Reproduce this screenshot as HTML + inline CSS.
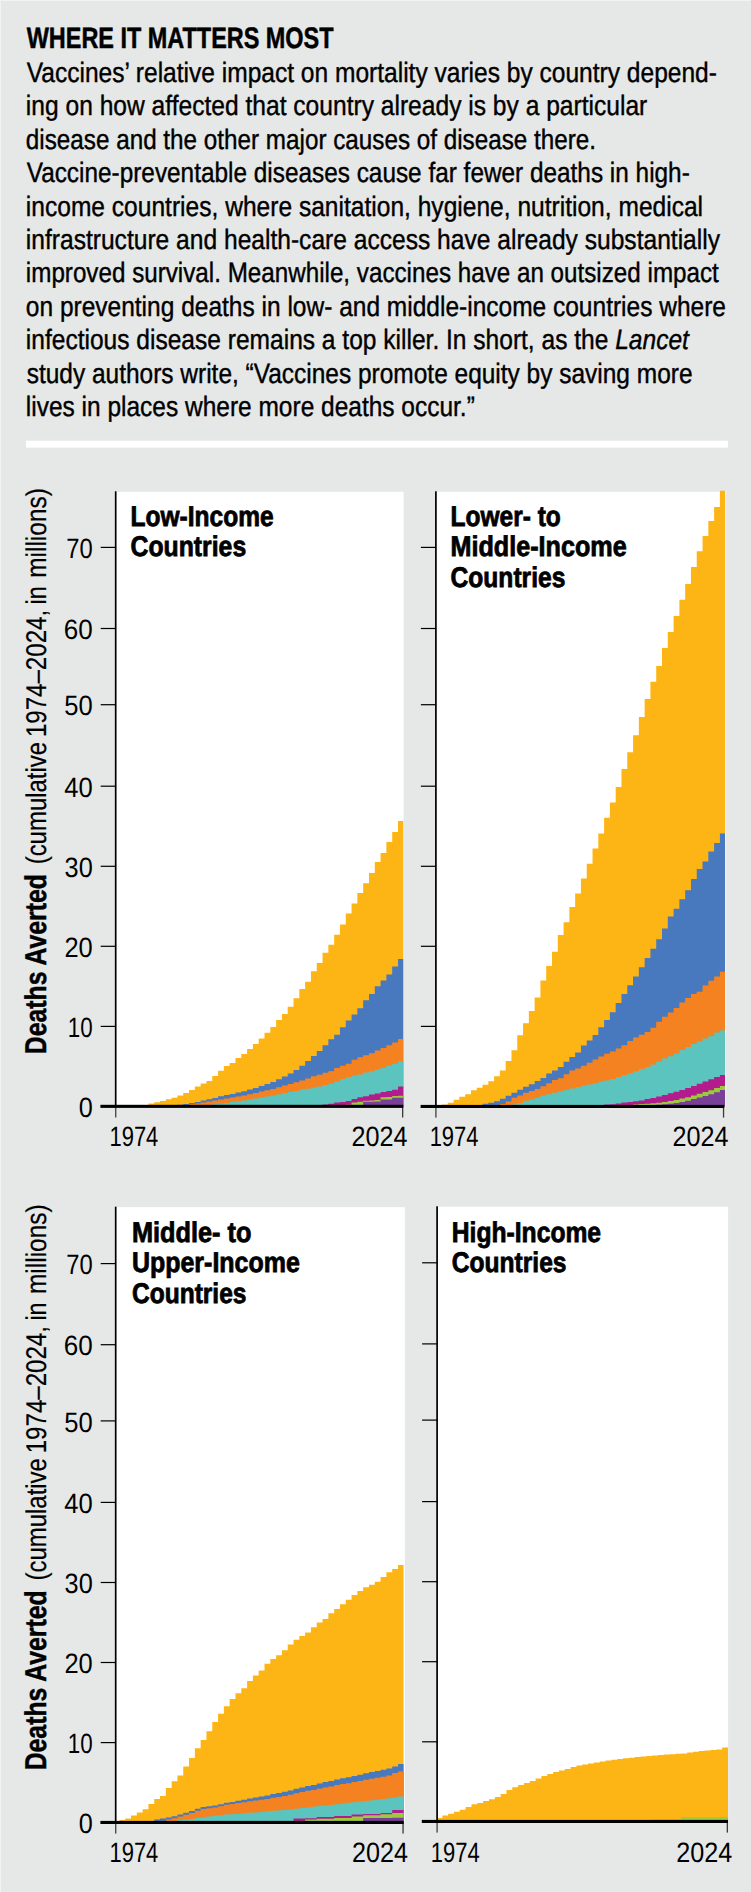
<!DOCTYPE html>
<html lang="en"><head><meta charset="utf-8"><title>Where It Matters Most</title>
<style>html,body{margin:0;padding:0;background:#e6e8e7;}svg{display:block}</style></head>
<body>
<svg width="751" height="1892" viewBox="0 0 751 1892" font-family="'Liberation Sans', sans-serif" fill="#000" text-rendering="geometricPrecision">
<rect width="751" height="1892" fill="#e6e8e7"/>
<rect x="0" y="0" width="751" height="1" fill="#f1f2f2"/><rect x="0" y="0" width="1" height="1892" fill="#f1f2f2"/>
<g id="header">
<text transform="translate(26.70,47.80) scale(0.7920,1)" font-size="29.6" stroke="#000" stroke-width="0.5"><tspan font-weight="bold" font-style="normal">WHERE IT MATTERS MOST</tspan></text>
<text transform="translate(26.70,81.90) scale(0.8765,1)" font-size="28.0" stroke="#000" stroke-width="0.4">Vaccines’ relative impact on mortality varies by country depend-</text>
<text transform="translate(25.82,115.30) scale(0.8782,1)" font-size="28.0" stroke="#000" stroke-width="0.4">ing on how affected that country already is by a particular</text>
<text transform="translate(25.83,148.70) scale(0.8661,1)" font-size="28.0" stroke="#000" stroke-width="0.4">disease and the other major causes of disease there.</text>
<text transform="translate(26.70,182.10) scale(0.8700,1)" font-size="28.0" stroke="#000" stroke-width="0.4">Vaccine-preventable diseases cause far fewer deaths in high-</text>
<text transform="translate(25.82,215.50) scale(0.8773,1)" font-size="28.0" stroke="#000" stroke-width="0.4">income countries, where sanitation, hygiene, nutrition, medical</text>
<text transform="translate(25.82,248.90) scale(0.8780,1)" font-size="28.0" stroke="#000" stroke-width="0.4">infrastructure and health-care access have already substantially</text>
<text transform="translate(25.84,282.30) scale(0.8646,1)" font-size="28.0" stroke="#000" stroke-width="0.4">improved survival. Meanwhile, vaccines have an outsized impact</text>
<text transform="translate(25.82,315.70) scale(0.8752,1)" font-size="28.0" stroke="#000" stroke-width="0.4">on preventing deaths in low- and middle-income countries where</text>
<text transform="translate(25.82,349.10) scale(0.8766,1)" font-size="28.0" stroke="#000" stroke-width="0.4">infectious disease remains a top killer. In short, as the <tspan font-weight="normal" font-style="italic">Lancet</tspan></text>
<text transform="translate(26.70,382.50) scale(0.8737,1)" font-size="28.0" stroke="#000" stroke-width="0.4">study authors write, “Vaccines promote equity by saving more</text>
<text transform="translate(25.83,415.90) scale(0.8742,1)" font-size="28.0" stroke="#000" stroke-width="0.4">lives in places where more deaths occur.”</text>
</g>
<rect x="26" y="440.7" width="701.9" height="6.9" fill="#fff"/>
<g id="panel-1">
<rect x="115.70" y="491.80" width="287.90" height="614.50" fill="#fff"/>
<clipPath id="c1"><rect x="116.50" y="489.80" width="286.80" height="618.50"/></clipPath>
<g clip-path="url(#c1)" shape-rendering="geometricPrecision">
<path d="M113.60,1106.30L113.60,1106.30L119.40,1106.30L119.40,1106.30L125.21,1106.30L125.21,1106.30L131.01,1106.30L131.01,1106.30L136.82,1106.30L136.82,1106.30L142.62,1106.30L142.62,1104.90L148.42,1104.90L148.42,1103.40L154.23,1103.40L154.23,1102.20L160.03,1102.20L160.03,1101.00L165.84,1101.00L165.84,1099.20L171.64,1099.20L171.64,1097.70L177.44,1097.70L177.44,1095.50L183.25,1095.50L183.25,1092.90L189.05,1092.90L189.05,1090.00L194.86,1090.00L194.86,1086.60L200.66,1086.60L200.66,1083.50L206.46,1083.50L206.46,1080.90L212.27,1080.90L212.27,1076.00L218.07,1076.00L218.07,1070.80L223.88,1070.80L223.88,1065.90L229.68,1065.90L229.68,1062.90L235.48,1062.90L235.48,1058.00L241.29,1058.00L241.29,1054.10L247.09,1054.10L247.09,1049.00L252.90,1049.00L252.90,1044.00L258.70,1044.00L258.70,1038.40L264.50,1038.40L264.50,1032.70L270.31,1032.70L270.31,1027.00L276.11,1027.00L276.11,1020.00L281.92,1020.00L281.92,1013.90L287.72,1013.90L287.72,1006.70L293.52,1006.70L293.52,998.30L299.33,998.30L299.33,989.00L305.13,989.00L305.13,981.80L310.94,981.80L310.94,971.30L316.74,971.30L316.74,963.00L322.54,963.00L322.54,952.80L328.35,952.80L328.35,944.80L334.15,944.80L334.15,934.80L339.96,934.80L339.96,924.40L345.76,924.40L345.76,913.50L351.56,913.50L351.56,903.50L357.37,903.50L357.37,892.90L363.17,892.90L363.17,883.30L368.98,883.30L368.98,872.90L374.78,872.90L374.78,861.90L380.58,861.90L380.58,852.90L386.39,852.90L386.39,842.00L392.19,842.00L392.19,832.00L398.00,832.00L398.00,821.00L403.80,821.00L403.80,1106.30Z" fill="#fdb515"/>
<path d="M113.60,1106.30L113.60,1106.30L119.40,1106.30L119.40,1106.30L125.21,1106.30L125.21,1106.30L131.01,1106.30L131.01,1106.30L136.82,1106.30L136.82,1106.30L142.62,1106.30L142.62,1106.30L148.42,1106.30L148.42,1106.30L154.23,1106.30L154.23,1106.30L160.03,1106.30L160.03,1106.30L165.84,1106.30L165.84,1106.30L171.64,1106.30L171.64,1106.30L177.44,1106.30L177.44,1104.80L183.25,1104.80L183.25,1103.90L189.05,1103.90L189.05,1103.10L194.86,1103.10L194.86,1101.90L200.66,1101.90L200.66,1100.50L206.46,1100.50L206.46,1099.30L212.27,1099.30L212.27,1097.90L218.07,1097.90L218.07,1096.30L223.88,1096.30L223.88,1094.90L229.68,1094.90L229.68,1093.90L235.48,1093.90L235.48,1092.50L241.29,1092.50L241.29,1091.30L247.09,1091.30L247.09,1089.50L252.90,1089.50L252.90,1087.90L258.70,1087.90L258.70,1085.90L264.50,1085.90L264.50,1083.90L270.31,1083.90L270.31,1081.90L276.11,1081.90L276.11,1079.30L281.92,1079.30L281.92,1076.50L287.72,1076.50L287.72,1073.50L293.52,1073.50L293.52,1069.90L299.33,1069.90L299.33,1065.80L305.13,1065.80L305.13,1061.10L310.94,1061.10L310.94,1055.90L316.74,1055.90L316.74,1050.90L322.54,1050.90L322.54,1045.20L328.35,1045.20L328.35,1039.20L334.15,1039.20L334.15,1034.80L339.96,1034.80L339.96,1027.20L345.76,1027.20L345.76,1020.60L351.56,1020.60L351.56,1014.60L357.37,1014.60L357.37,1008.20L363.17,1008.20L363.17,1000.30L368.98,1000.30L368.98,993.90L374.78,993.90L374.78,986.30L380.58,986.30L380.58,980.60L386.39,980.60L386.39,974.40L392.19,974.40L392.19,966.60L398.00,966.60L398.00,959.00L403.80,959.00L403.80,1106.30Z" fill="#4878be"/>
<path d="M113.60,1106.30L113.60,1106.30L119.40,1106.30L119.40,1106.30L125.21,1106.30L125.21,1106.30L131.01,1106.30L131.01,1106.30L136.82,1106.30L136.82,1106.30L142.62,1106.30L142.62,1106.30L148.42,1106.30L148.42,1106.30L154.23,1106.30L154.23,1106.30L160.03,1106.30L160.03,1106.30L165.84,1106.30L165.84,1106.30L171.64,1106.30L171.64,1106.30L177.44,1106.30L177.44,1106.30L183.25,1106.30L183.25,1105.30L189.05,1105.30L189.05,1104.10L194.86,1104.10L194.86,1103.50L200.66,1103.50L200.66,1102.50L206.46,1102.50L206.46,1101.50L212.27,1101.50L212.27,1100.50L218.07,1100.50L218.07,1099.50L223.88,1099.50L223.88,1098.50L229.68,1098.50L229.68,1097.50L235.48,1097.50L235.48,1096.50L241.29,1096.50L241.29,1095.50L247.09,1095.50L247.09,1094.30L252.90,1094.30L252.90,1092.90L258.70,1092.90L258.70,1091.50L264.50,1091.50L264.50,1090.30L270.31,1090.30L270.31,1088.90L276.11,1088.90L276.11,1087.30L281.92,1087.30L281.92,1085.50L287.72,1085.50L287.72,1083.90L293.52,1083.90L293.52,1082.30L299.33,1082.30L299.33,1080.50L305.13,1080.50L305.13,1078.40L310.94,1078.40L310.94,1076.30L316.74,1076.30L316.74,1074.70L322.54,1074.70L322.54,1072.80L328.35,1072.80L328.35,1071.20L334.15,1071.20L334.15,1068.10L339.96,1068.10L339.96,1065.80L345.76,1065.80L345.76,1063.80L351.56,1063.80L351.56,1059.80L357.37,1059.80L357.37,1057.20L363.17,1057.20L363.17,1055.20L368.98,1055.20L368.98,1053.20L374.78,1053.20L374.78,1050.50L380.58,1050.50L380.58,1047.90L386.39,1047.90L386.39,1045.20L392.19,1045.20L392.19,1042.50L398.00,1042.50L398.00,1038.90L403.80,1038.90L403.80,1106.30Z" fill="#f58220"/>
<path d="M113.60,1106.30L113.60,1106.30L119.40,1106.30L119.40,1106.30L125.21,1106.30L125.21,1106.30L131.01,1106.30L131.01,1106.30L136.82,1106.30L136.82,1106.30L142.62,1106.30L142.62,1106.30L148.42,1106.30L148.42,1106.30L154.23,1106.30L154.23,1106.30L160.03,1106.30L160.03,1106.30L165.84,1106.30L165.84,1106.30L171.64,1106.30L171.64,1106.30L177.44,1106.30L177.44,1106.30L183.25,1106.30L183.25,1106.30L189.05,1106.30L189.05,1106.30L194.86,1106.30L194.86,1106.30L200.66,1106.30L200.66,1106.30L206.46,1106.30L206.46,1105.30L212.27,1105.30L212.27,1104.30L218.07,1104.30L218.07,1103.70L223.88,1103.70L223.88,1102.90L229.68,1102.90L229.68,1102.10L235.48,1102.10L235.48,1101.30L241.29,1101.30L241.29,1100.50L247.09,1100.50L247.09,1099.50L252.90,1099.50L252.90,1098.50L258.70,1098.50L258.70,1097.50L264.50,1097.50L264.50,1096.50L270.31,1096.50L270.31,1095.50L276.11,1095.50L276.11,1094.50L281.92,1094.50L281.92,1093.30L287.72,1093.30L287.72,1091.90L293.52,1091.90L293.52,1090.90L299.33,1090.90L299.33,1089.50L305.13,1089.50L305.13,1088.70L310.94,1088.70L310.94,1087.50L316.74,1087.50L316.74,1086.50L322.54,1086.50L322.54,1085.10L328.35,1085.10L328.35,1083.80L334.15,1083.80L334.15,1081.40L339.96,1081.40L339.96,1079.10L345.76,1079.10L345.76,1077.20L351.56,1077.20L351.56,1075.80L357.37,1075.80L357.37,1074.50L363.17,1074.50L363.17,1072.50L368.98,1072.50L368.98,1071.20L374.78,1071.20L374.78,1069.40L380.58,1069.40L380.58,1068.10L386.39,1068.10L386.39,1065.80L392.19,1065.80L392.19,1063.80L398.00,1063.80L398.00,1061.20L403.80,1061.20L403.80,1106.30Z" fill="#5bc4bf"/>
<path d="M113.60,1106.30L113.60,1106.30L119.40,1106.30L119.40,1106.30L125.21,1106.30L125.21,1106.30L131.01,1106.30L131.01,1106.30L136.82,1106.30L136.82,1106.30L142.62,1106.30L142.62,1106.30L148.42,1106.30L148.42,1106.30L154.23,1106.30L154.23,1106.30L160.03,1106.30L160.03,1106.30L165.84,1106.30L165.84,1106.30L171.64,1106.30L171.64,1106.30L177.44,1106.30L177.44,1106.30L183.25,1106.30L183.25,1106.30L189.05,1106.30L189.05,1106.30L194.86,1106.30L194.86,1106.30L200.66,1106.30L200.66,1106.30L206.46,1106.30L206.46,1106.30L212.27,1106.30L212.27,1106.30L218.07,1106.30L218.07,1106.30L223.88,1106.30L223.88,1106.30L229.68,1106.30L229.68,1106.30L235.48,1106.30L235.48,1106.30L241.29,1106.30L241.29,1106.30L247.09,1106.30L247.09,1106.30L252.90,1106.30L252.90,1106.30L258.70,1106.30L258.70,1106.30L264.50,1106.30L264.50,1106.30L270.31,1106.30L270.31,1106.30L276.11,1106.30L276.11,1106.30L281.92,1106.30L281.92,1106.30L287.72,1106.30L287.72,1106.30L293.52,1106.30L293.52,1106.30L299.33,1106.30L299.33,1106.30L305.13,1106.30L305.13,1106.30L310.94,1106.30L310.94,1106.30L316.74,1106.30L316.74,1105.10L322.54,1105.10L322.54,1104.50L328.35,1104.50L328.35,1103.70L334.15,1103.70L334.15,1102.60L339.96,1102.60L339.96,1102.10L345.76,1102.10L345.76,1101.00L351.56,1101.00L351.56,1098.90L357.37,1098.90L357.37,1097.30L363.17,1097.30L363.17,1096.20L368.98,1096.20L368.98,1094.60L374.78,1094.60L374.78,1093.60L380.58,1093.60L380.58,1092.00L386.39,1092.00L386.39,1090.90L392.19,1090.90L392.19,1089.80L398.00,1089.80L398.00,1086.60L403.80,1086.60L403.80,1106.30Z" fill="#b21c8c"/>
<path d="M113.60,1106.30L113.60,1106.30L119.40,1106.30L119.40,1106.30L125.21,1106.30L125.21,1106.30L131.01,1106.30L131.01,1106.30L136.82,1106.30L136.82,1106.30L142.62,1106.30L142.62,1106.30L148.42,1106.30L148.42,1106.30L154.23,1106.30L154.23,1106.30L160.03,1106.30L160.03,1106.30L165.84,1106.30L165.84,1106.30L171.64,1106.30L171.64,1106.30L177.44,1106.30L177.44,1106.30L183.25,1106.30L183.25,1106.30L189.05,1106.30L189.05,1106.30L194.86,1106.30L194.86,1106.30L200.66,1106.30L200.66,1106.30L206.46,1106.30L206.46,1106.30L212.27,1106.30L212.27,1106.30L218.07,1106.30L218.07,1106.30L223.88,1106.30L223.88,1106.30L229.68,1106.30L229.68,1106.30L235.48,1106.30L235.48,1106.30L241.29,1106.30L241.29,1106.30L247.09,1106.30L247.09,1106.30L252.90,1106.30L252.90,1106.30L258.70,1106.30L258.70,1106.30L264.50,1106.30L264.50,1106.30L270.31,1106.30L270.31,1106.30L276.11,1106.30L276.11,1106.30L281.92,1106.30L281.92,1106.30L287.72,1106.30L287.72,1106.30L293.52,1106.30L293.52,1106.30L299.33,1106.30L299.33,1106.30L305.13,1106.30L305.13,1106.30L310.94,1106.30L310.94,1106.30L316.74,1106.30L316.74,1106.30L322.54,1106.30L322.54,1106.30L328.35,1106.30L328.35,1106.30L334.15,1106.30L334.15,1106.30L339.96,1106.30L339.96,1106.30L345.76,1106.30L345.76,1104.80L351.56,1104.80L351.56,1102.60L357.37,1102.60L357.37,1101.80L363.17,1101.80L363.17,1100.70L368.98,1100.70L368.98,1100.50L374.78,1100.50L374.78,1099.90L380.58,1099.90L380.58,1097.30L386.39,1097.30L386.39,1097.00L392.19,1097.00L392.19,1095.90L398.00,1095.90L398.00,1095.70L403.80,1095.70L403.80,1106.30Z" fill="#9bca3c"/>
<path d="M113.60,1106.30L113.60,1106.30L119.40,1106.30L119.40,1106.30L125.21,1106.30L125.21,1106.30L131.01,1106.30L131.01,1106.30L136.82,1106.30L136.82,1106.30L142.62,1106.30L142.62,1106.30L148.42,1106.30L148.42,1106.30L154.23,1106.30L154.23,1106.30L160.03,1106.30L160.03,1106.30L165.84,1106.30L165.84,1106.30L171.64,1106.30L171.64,1106.30L177.44,1106.30L177.44,1106.30L183.25,1106.30L183.25,1106.30L189.05,1106.30L189.05,1106.30L194.86,1106.30L194.86,1106.30L200.66,1106.30L200.66,1106.30L206.46,1106.30L206.46,1106.30L212.27,1106.30L212.27,1106.30L218.07,1106.30L218.07,1106.30L223.88,1106.30L223.88,1106.30L229.68,1106.30L229.68,1106.30L235.48,1106.30L235.48,1106.30L241.29,1106.30L241.29,1106.30L247.09,1106.30L247.09,1106.30L252.90,1106.30L252.90,1106.30L258.70,1106.30L258.70,1106.30L264.50,1106.30L264.50,1106.30L270.31,1106.30L270.31,1106.30L276.11,1106.30L276.11,1106.30L281.92,1106.30L281.92,1106.30L287.72,1106.30L287.72,1106.30L293.52,1106.30L293.52,1106.30L299.33,1106.30L299.33,1106.30L305.13,1106.30L305.13,1106.30L310.94,1106.30L310.94,1106.30L316.74,1106.30L316.74,1106.30L322.54,1106.30L322.54,1106.30L328.35,1106.30L328.35,1106.30L334.15,1106.30L334.15,1106.30L339.96,1106.30L339.96,1106.30L345.76,1106.30L345.76,1106.30L351.56,1106.30L351.56,1106.30L357.37,1106.30L357.37,1105.30L363.17,1105.30L363.17,1101.80L368.98,1101.80L368.98,1101.80L374.78,1101.80L374.78,1101.50L380.58,1101.50L380.58,1099.60L386.39,1099.60L386.39,1099.60L392.19,1099.60L392.19,1097.80L398.00,1097.80L398.00,1097.80L403.80,1097.80L403.80,1106.30Z" fill="#7a3f98"/>
</g>
<rect x="114.85" y="491.30" width="1.7" height="615.00" fill="#000"/>
<rect x="115.00" y="1106.30" width="1.4" height="11.2" fill="#4d4d4f"/>
<rect x="402.00" y="1106.30" width="1.3" height="11.2" fill="#3a3a3a"/>
<rect x="100.70" y="546.80" width="15" height="1.2" fill="#000"/>
<text transform="translate(66.25,558.00) scale(0.8488,1)" font-size="28">70</text>
<rect x="100.70" y="627.90" width="15" height="1.2" fill="#000"/>
<text transform="translate(63.77,639.10) scale(0.9299,1)" font-size="28">60</text>
<rect x="100.70" y="704.10" width="15" height="1.2" fill="#000"/>
<text transform="translate(64.29,715.30) scale(0.9130,1)" font-size="28">50</text>
<rect x="100.70" y="785.60" width="15" height="1.2" fill="#000"/>
<text transform="translate(64.30,796.80) scale(0.9126,1)" font-size="28">40</text>
<rect x="100.70" y="865.70" width="15" height="1.2" fill="#000"/>
<text transform="translate(64.60,876.90) scale(0.9029,1)" font-size="28">30</text>
<rect x="100.70" y="945.70" width="15" height="1.2" fill="#000"/>
<text transform="translate(64.39,956.90) scale(0.9096,1)" font-size="28">20</text>
<rect x="100.70" y="1025.80" width="15" height="1.2" fill="#000"/>
<text transform="translate(67.80,1037.00) scale(0.7980,1)" font-size="28">10</text>
<text transform="translate(78.70,1116.50) scale(0.9000,1)" font-size="28">0</text>
<rect x="100.40" y="1104.80" width="302.90" height="3.1" fill="#000"/>
<text transform="translate(109.43,1145.70) scale(0.7854,1)" font-size="28">1974</text>
<text transform="translate(351.60,1145.70) scale(0.8993,1)" font-size="28">2024</text>
<text transform="translate(130.54,525.70) scale(0.8581,1)" font-size="28.6" stroke="#000" stroke-width="0.8"><tspan font-weight="bold" font-style="normal">Low-Income</tspan></text>
<text transform="translate(130.53,556.10) scale(0.8666,1)" font-size="28.6" stroke="#000" stroke-width="0.8"><tspan font-weight="bold" font-style="normal">Countries</tspan></text>
</g>
<g id="panel-2">
<rect x="435.90" y="491.80" width="289.50" height="614.60" fill="#fff"/>
<clipPath id="c2"><rect x="436.80" y="489.80" width="288.20" height="618.60"/></clipPath>
<g clip-path="url(#c2)" shape-rendering="geometricPrecision">
<path d="M436.20,1106.40L436.20,1106.40L441.99,1106.40L441.99,1104.40L447.78,1104.40L447.78,1102.80L453.57,1102.80L453.57,1099.80L459.36,1099.80L459.36,1096.80L465.15,1096.80L465.15,1094.20L470.94,1094.20L470.94,1090.20L476.73,1090.20L476.73,1087.80L482.52,1087.80L482.52,1084.80L488.31,1084.80L488.31,1081.20L494.10,1081.20L494.10,1076.20L499.89,1076.20L499.89,1070.40L505.68,1070.40L505.68,1060.90L511.47,1060.90L511.47,1050.30L517.26,1050.30L517.26,1035.30L523.05,1035.30L523.05,1023.30L528.84,1023.30L528.84,1010.90L534.63,1010.90L534.63,997.50L540.42,997.50L540.42,980.60L546.21,980.60L546.21,966.00L552.00,966.00L552.00,951.70L557.79,951.70L557.79,935.10L563.58,935.10L563.58,922.30L569.37,922.30L569.37,907.10L575.16,907.10L575.16,893.40L580.95,893.40L580.95,878.60L586.74,878.60L586.74,863.80L592.53,863.80L592.53,848.60L598.32,848.60L598.32,833.50L604.11,833.50L604.11,817.80L609.90,817.80L609.90,802.50L615.69,802.50L615.69,787.00L621.48,787.00L621.48,768.90L627.27,768.90L627.27,752.20L633.06,752.20L633.06,735.20L638.85,735.20L638.85,717.10L644.64,717.10L644.64,699.00L650.43,699.00L650.43,681.70L656.22,681.70L656.22,666.00L662.01,666.00L662.01,648.00L667.80,648.00L667.80,632.00L673.59,632.00L673.59,615.90L679.38,615.90L679.38,599.70L685.17,599.70L685.17,583.90L690.96,583.90L690.96,567.10L696.75,567.10L696.75,551.20L702.54,551.20L702.54,536.10L708.33,536.10L708.33,521.00L714.12,521.00L714.12,507.00L719.91,507.00L719.91,490.80L725.70,490.80L725.70,1106.40Z" fill="#fdb515"/>
<path d="M436.20,1106.40L436.20,1106.40L441.99,1106.40L441.99,1106.40L447.78,1106.40L447.78,1106.40L453.57,1106.40L453.57,1106.40L459.36,1106.40L459.36,1106.40L465.15,1106.40L465.15,1106.40L470.94,1106.40L470.94,1106.40L476.73,1106.40L476.73,1104.90L482.52,1104.90L482.52,1103.80L488.31,1103.80L488.31,1102.80L494.10,1102.80L494.10,1101.20L499.89,1101.20L499.89,1098.80L505.68,1098.80L505.68,1095.80L511.47,1095.80L511.47,1092.80L517.26,1092.80L517.26,1089.80L523.05,1089.80L523.05,1086.80L528.84,1086.80L528.84,1084.20L534.63,1084.20L534.63,1081.00L540.42,1081.00L540.42,1078.00L546.21,1078.00L546.21,1073.40L552.00,1073.40L552.00,1070.40L557.79,1070.40L557.79,1067.00L563.58,1067.00L563.58,1061.80L569.37,1061.80L569.37,1057.10L575.16,1057.10L575.16,1052.50L580.95,1052.50L580.95,1045.60L586.74,1045.60L586.74,1040.40L592.53,1040.40L592.53,1035.00L598.32,1035.00L598.32,1027.20L604.11,1027.20L604.11,1019.90L609.90,1019.90L609.90,1012.30L615.69,1012.30L615.69,1003.00L621.48,1003.00L621.48,994.00L627.27,994.00L627.27,985.30L633.06,985.30L633.06,976.40L638.85,976.40L638.85,967.20L644.64,967.20L644.64,958.00L650.43,958.00L650.43,948.80L656.22,948.80L656.22,939.20L662.01,939.20L662.01,928.40L667.80,928.40L667.80,916.60L673.59,916.60L673.59,908.70L679.38,908.70L679.38,899.30L685.17,899.30L685.17,890.20L690.96,890.20L690.96,879.00L696.75,879.00L696.75,869.10L702.54,869.10L702.54,861.40L708.33,861.40L708.33,851.40L714.12,851.40L714.12,843.00L719.91,843.00L719.91,833.50L725.70,833.50L725.70,1106.40Z" fill="#4878be"/>
<path d="M436.20,1106.40L436.20,1106.40L441.99,1106.40L441.99,1106.40L447.78,1106.40L447.78,1106.40L453.57,1106.40L453.57,1106.40L459.36,1106.40L459.36,1106.40L465.15,1106.40L465.15,1106.40L470.94,1106.40L470.94,1106.40L476.73,1106.40L476.73,1106.40L482.52,1106.40L482.52,1106.40L488.31,1106.40L488.31,1106.40L494.10,1106.40L494.10,1105.40L499.89,1105.40L499.89,1103.90L505.68,1103.90L505.68,1101.40L511.47,1101.40L511.47,1097.80L517.26,1097.80L517.26,1095.40L523.05,1095.40L523.05,1092.80L528.84,1092.80L528.84,1090.90L534.63,1090.90L534.63,1088.90L540.42,1088.90L540.42,1086.20L546.21,1086.20L546.21,1083.30L552.00,1083.30L552.00,1080.10L557.79,1080.10L557.79,1078.20L563.58,1078.20L563.58,1074.20L569.37,1074.20L569.37,1070.60L575.16,1070.60L575.16,1068.40L580.95,1068.40L580.95,1065.70L586.74,1065.70L586.74,1062.80L592.53,1062.80L592.53,1059.60L598.32,1059.60L598.32,1056.60L604.11,1056.60L604.11,1053.70L609.90,1053.70L609.90,1051.40L615.69,1051.40L615.69,1048.40L621.48,1048.40L621.48,1045.20L627.27,1045.20L627.27,1041.00L633.06,1041.00L633.06,1037.40L638.85,1037.40L638.85,1034.70L644.64,1034.70L644.64,1032.00L650.43,1032.00L650.43,1027.80L656.22,1027.80L656.22,1021.70L662.01,1021.70L662.01,1016.80L667.80,1016.80L667.80,1012.50L673.59,1012.50L673.59,1007.90L679.38,1007.90L679.38,1002.50L685.17,1002.50L685.17,997.90L690.96,997.90L690.96,994.10L696.75,994.10L696.75,991.80L702.54,991.80L702.54,985.60L708.33,985.60L708.33,980.70L714.12,980.70L714.12,976.40L719.91,976.40L719.91,971.80L725.70,971.80L725.70,1106.40Z" fill="#f58220"/>
<path d="M436.20,1106.40L436.20,1106.40L441.99,1106.40L441.99,1106.40L447.78,1106.40L447.78,1106.40L453.57,1106.40L453.57,1106.40L459.36,1106.40L459.36,1106.40L465.15,1106.40L465.15,1106.40L470.94,1106.40L470.94,1106.40L476.73,1106.40L476.73,1106.40L482.52,1106.40L482.52,1106.40L488.31,1106.40L488.31,1106.40L494.10,1106.40L494.10,1106.40L499.89,1106.40L499.89,1106.40L505.68,1106.40L505.68,1105.40L511.47,1105.40L511.47,1104.40L517.26,1104.40L517.26,1102.90L523.05,1102.90L523.05,1100.80L528.84,1100.80L528.84,1099.60L534.63,1099.60L534.63,1097.90L540.42,1097.90L540.42,1095.70L546.21,1095.70L546.21,1094.30L552.00,1094.30L552.00,1092.80L557.79,1092.80L557.79,1091.40L563.58,1091.40L563.58,1089.90L569.37,1089.90L569.37,1088.40L575.16,1088.40L575.16,1087.00L580.95,1087.00L580.95,1085.80L586.74,1085.80L586.74,1084.50L592.53,1084.50L592.53,1083.30L598.32,1083.30L598.32,1081.80L604.11,1081.80L604.11,1080.40L609.90,1080.40L609.90,1078.90L615.69,1078.90L615.69,1077.10L621.48,1077.10L621.48,1074.90L627.27,1074.90L627.27,1073.30L633.06,1073.30L633.06,1071.20L638.85,1071.20L638.85,1069.10L644.64,1069.10L644.64,1066.90L650.43,1066.90L650.43,1064.60L656.22,1064.60L656.22,1061.60L662.01,1061.60L662.01,1058.50L667.80,1058.50L667.80,1056.20L673.59,1056.20L673.59,1053.40L679.38,1053.40L679.38,1050.10L685.17,1050.10L685.17,1047.00L690.96,1047.00L690.96,1043.90L696.75,1043.90L696.75,1041.60L702.54,1041.60L702.54,1038.60L708.33,1038.60L708.33,1036.30L714.12,1036.30L714.12,1032.40L719.91,1032.40L719.91,1030.40L725.70,1030.40L725.70,1106.40Z" fill="#5bc4bf"/>
<path d="M436.20,1106.40L436.20,1106.40L441.99,1106.40L441.99,1106.40L447.78,1106.40L447.78,1106.40L453.57,1106.40L453.57,1106.40L459.36,1106.40L459.36,1106.40L465.15,1106.40L465.15,1106.40L470.94,1106.40L470.94,1106.40L476.73,1106.40L476.73,1106.40L482.52,1106.40L482.52,1106.40L488.31,1106.40L488.31,1106.40L494.10,1106.40L494.10,1106.40L499.89,1106.40L499.89,1106.40L505.68,1106.40L505.68,1106.40L511.47,1106.40L511.47,1106.40L517.26,1106.40L517.26,1106.40L523.05,1106.40L523.05,1106.40L528.84,1106.40L528.84,1106.40L534.63,1106.40L534.63,1106.40L540.42,1106.40L540.42,1106.40L546.21,1106.40L546.21,1106.40L552.00,1106.40L552.00,1106.40L557.79,1106.40L557.79,1106.40L563.58,1106.40L563.58,1106.40L569.37,1106.40L569.37,1106.40L575.16,1106.40L575.16,1106.40L580.95,1106.40L580.95,1106.40L586.74,1106.40L586.74,1106.40L592.53,1106.40L592.53,1106.40L598.32,1106.40L598.32,1105.20L604.11,1105.20L604.11,1104.60L609.90,1104.60L609.90,1104.20L615.69,1104.20L615.69,1103.40L621.48,1103.40L621.48,1102.50L627.27,1102.50L627.27,1102.00L633.06,1102.00L633.06,1101.20L638.85,1101.20L638.85,1100.40L644.64,1100.40L644.64,1099.10L650.43,1099.10L650.43,1097.90L656.22,1097.90L656.22,1096.40L662.01,1096.40L662.01,1095.00L667.80,1095.00L667.80,1093.30L673.59,1093.30L673.59,1091.80L679.38,1091.80L679.38,1089.90L685.17,1089.90L685.17,1088.10L690.96,1088.10L690.96,1086.10L696.75,1086.10L696.75,1083.80L702.54,1083.80L702.54,1081.50L708.33,1081.50L708.33,1079.20L714.12,1079.20L714.12,1076.90L719.91,1076.90L719.91,1075.10L725.70,1075.10L725.70,1106.40Z" fill="#b21c8c"/>
<path d="M436.20,1106.40L436.20,1106.40L441.99,1106.40L441.99,1106.40L447.78,1106.40L447.78,1106.40L453.57,1106.40L453.57,1106.40L459.36,1106.40L459.36,1106.40L465.15,1106.40L465.15,1106.40L470.94,1106.40L470.94,1106.40L476.73,1106.40L476.73,1106.40L482.52,1106.40L482.52,1106.40L488.31,1106.40L488.31,1106.40L494.10,1106.40L494.10,1106.40L499.89,1106.40L499.89,1106.40L505.68,1106.40L505.68,1106.40L511.47,1106.40L511.47,1106.40L517.26,1106.40L517.26,1106.40L523.05,1106.40L523.05,1106.40L528.84,1106.40L528.84,1106.40L534.63,1106.40L534.63,1106.40L540.42,1106.40L540.42,1106.40L546.21,1106.40L546.21,1106.40L552.00,1106.40L552.00,1106.40L557.79,1106.40L557.79,1106.40L563.58,1106.40L563.58,1106.40L569.37,1106.40L569.37,1106.40L575.16,1106.40L575.16,1106.40L580.95,1106.40L580.95,1106.40L586.74,1106.40L586.74,1106.40L592.53,1106.40L592.53,1106.40L598.32,1106.40L598.32,1106.40L604.11,1106.40L604.11,1106.40L609.90,1106.40L609.90,1106.40L615.69,1106.40L615.69,1106.40L621.48,1106.40L621.48,1106.40L627.27,1106.40L627.27,1104.90L633.06,1104.90L633.06,1104.40L638.85,1104.40L638.85,1104.00L644.64,1104.00L644.64,1103.70L650.43,1103.70L650.43,1103.30L656.22,1103.30L656.22,1102.70L662.01,1102.70L662.01,1101.90L667.80,1101.90L667.80,1101.00L673.59,1101.00L673.59,1099.90L679.38,1099.90L679.38,1098.50L685.17,1098.50L685.17,1097.30L690.96,1097.30L690.96,1095.60L696.75,1095.60L696.75,1093.80L702.54,1093.80L702.54,1091.90L708.33,1091.90L708.33,1090.20L714.12,1090.20L714.12,1088.10L719.91,1088.10L719.91,1086.10L725.70,1086.10L725.70,1106.40Z" fill="#9bca3c"/>
<path d="M436.20,1106.40L436.20,1106.40L441.99,1106.40L441.99,1106.40L447.78,1106.40L447.78,1106.40L453.57,1106.40L453.57,1106.40L459.36,1106.40L459.36,1106.40L465.15,1106.40L465.15,1106.40L470.94,1106.40L470.94,1106.40L476.73,1106.40L476.73,1106.40L482.52,1106.40L482.52,1106.40L488.31,1106.40L488.31,1106.40L494.10,1106.40L494.10,1106.40L499.89,1106.40L499.89,1106.40L505.68,1106.40L505.68,1106.40L511.47,1106.40L511.47,1106.40L517.26,1106.40L517.26,1106.40L523.05,1106.40L523.05,1106.40L528.84,1106.40L528.84,1106.40L534.63,1106.40L534.63,1106.40L540.42,1106.40L540.42,1106.40L546.21,1106.40L546.21,1106.40L552.00,1106.40L552.00,1106.40L557.79,1106.40L557.79,1106.40L563.58,1106.40L563.58,1106.40L569.37,1106.40L569.37,1106.40L575.16,1106.40L575.16,1106.40L580.95,1106.40L580.95,1106.40L586.74,1106.40L586.74,1106.40L592.53,1106.40L592.53,1106.40L598.32,1106.40L598.32,1106.40L604.11,1106.40L604.11,1106.40L609.90,1106.40L609.90,1106.40L615.69,1106.40L615.69,1106.40L621.48,1106.40L621.48,1106.40L627.27,1106.40L627.27,1106.40L633.06,1106.40L633.06,1106.40L638.85,1106.40L638.85,1106.40L644.64,1106.40L644.64,1106.40L650.43,1106.40L650.43,1105.20L656.22,1105.20L656.22,1104.70L662.01,1104.70L662.01,1104.20L667.80,1104.20L667.80,1103.70L673.59,1103.70L673.59,1103.00L679.38,1103.00L679.38,1101.90L685.17,1101.90L685.17,1100.70L690.96,1100.70L690.96,1099.10L696.75,1099.10L696.75,1097.60L702.54,1097.60L702.54,1096.10L708.33,1096.10L708.33,1094.20L714.12,1094.20L714.12,1092.20L719.91,1092.20L719.91,1089.90L725.70,1089.90L725.70,1106.40Z" fill="#7a3f98"/>
</g>
<rect x="435.05" y="491.30" width="1.7" height="615.10" fill="#000"/>
<rect x="435.20" y="1106.40" width="1.4" height="11.2" fill="#4d4d4f"/>
<rect x="722.90" y="1106.40" width="1.3" height="11.2" fill="#3a3a3a"/>
<rect x="420.90" y="546.80" width="15" height="1.2" fill="#000"/>
<rect x="420.90" y="627.90" width="15" height="1.2" fill="#000"/>
<rect x="420.90" y="704.10" width="15" height="1.2" fill="#000"/>
<rect x="420.90" y="785.60" width="15" height="1.2" fill="#000"/>
<rect x="420.90" y="865.70" width="15" height="1.2" fill="#000"/>
<rect x="420.90" y="945.70" width="15" height="1.2" fill="#000"/>
<rect x="420.90" y="1025.80" width="15" height="1.2" fill="#000"/>
<rect x="420.60" y="1104.90" width="303.60" height="3.1" fill="#000"/>
<text transform="translate(429.63,1145.70) scale(0.7854,1)" font-size="28">1974</text>
<text transform="translate(672.50,1145.70) scale(0.8993,1)" font-size="28">2024</text>
<text transform="translate(450.54,525.70) scale(0.8570,1)" font-size="28.6" stroke="#000" stroke-width="0.8"><tspan font-weight="bold" font-style="normal">Lower- to</tspan></text>
<text transform="translate(450.52,556.10) scale(0.8801,1)" font-size="28.6" stroke="#000" stroke-width="0.8"><tspan font-weight="bold" font-style="normal">Middle-Income</tspan></text>
<text transform="translate(450.54,586.50) scale(0.8605,1)" font-size="28.6" stroke="#000" stroke-width="0.8"><tspan font-weight="bold" font-style="normal">Countries</tspan></text>
</g>
<g id="panel-3">
<rect x="115.70" y="1207.20" width="289.10" height="615.20" fill="#fff"/>
<clipPath id="c3"><rect x="116.50" y="1205.20" width="287.20" height="619.20"/></clipPath>
<g clip-path="url(#c3)" shape-rendering="geometricPrecision">
<path d="M113.60,1822.40L113.60,1822.40L119.40,1822.40L119.40,1819.90L125.21,1819.90L125.21,1818.50L131.01,1818.50L131.01,1815.50L136.82,1815.50L136.82,1812.50L142.62,1812.50L142.62,1809.20L148.42,1809.20L148.42,1804.00L154.23,1804.00L154.23,1799.00L160.03,1799.00L160.03,1796.00L165.84,1796.00L165.84,1788.00L171.64,1788.00L171.64,1781.20L177.44,1781.20L177.44,1775.60L183.25,1775.60L183.25,1766.60L189.05,1766.60L189.05,1758.00L194.86,1758.00L194.86,1748.20L200.66,1748.20L200.66,1740.00L206.46,1740.00L206.46,1731.30L212.27,1731.30L212.27,1722.10L218.07,1722.10L218.07,1713.70L223.88,1713.70L223.88,1706.30L229.68,1706.30L229.68,1699.10L235.48,1699.10L235.48,1693.30L241.29,1693.30L241.29,1688.30L247.09,1688.30L247.09,1680.90L252.90,1680.90L252.90,1675.40L258.70,1675.40L258.70,1670.40L264.50,1670.40L264.50,1663.70L270.31,1663.70L270.31,1659.00L276.11,1659.00L276.11,1655.20L281.92,1655.20L281.92,1650.20L287.72,1650.20L287.72,1644.40L293.52,1644.40L293.52,1639.80L299.33,1639.80L299.33,1636.10L305.13,1636.10L305.13,1632.40L310.94,1632.40L310.94,1627.20L316.74,1627.20L316.74,1622.60L322.54,1622.60L322.54,1618.90L328.35,1618.90L328.35,1613.30L334.15,1613.30L334.15,1609.10L339.96,1609.10L339.96,1604.30L345.76,1604.30L345.76,1599.80L351.56,1599.80L351.56,1595.00L357.37,1595.00L357.37,1591.00L363.17,1591.00L363.17,1587.30L368.98,1587.30L368.98,1584.80L374.78,1584.80L374.78,1581.70L380.58,1581.70L380.58,1576.90L386.39,1576.90L386.39,1572.30L392.19,1572.30L392.19,1569.00L398.00,1569.00L398.00,1565.10L403.80,1565.10L403.80,1822.40Z" fill="#fdb515"/>
<path d="M113.60,1822.40L113.60,1822.40L119.40,1822.40L119.40,1822.40L125.21,1822.40L125.21,1822.40L131.01,1822.40L131.01,1822.40L136.82,1822.40L136.82,1822.40L142.62,1822.40L142.62,1822.40L148.42,1822.40L148.42,1822.40L154.23,1822.40L154.23,1819.40L160.03,1819.40L160.03,1818.40L165.84,1818.40L165.84,1817.50L171.64,1817.50L171.64,1816.30L177.44,1816.30L177.44,1814.60L183.25,1814.60L183.25,1812.70L189.05,1812.70L189.05,1810.90L194.86,1810.90L194.86,1808.80L200.66,1808.80L200.66,1807.10L206.46,1807.10L206.46,1806.30L212.27,1806.30L212.27,1805.40L218.07,1805.40L218.07,1804.20L223.88,1804.20L223.88,1802.80L229.68,1802.80L229.68,1801.90L235.48,1801.90L235.48,1800.70L241.29,1800.70L241.29,1799.70L247.09,1799.70L247.09,1798.50L252.90,1798.50L252.90,1797.60L258.70,1797.60L258.70,1796.40L264.50,1796.40L264.50,1795.50L270.31,1795.50L270.31,1794.10L276.11,1794.10L276.11,1793.00L281.92,1793.00L281.92,1791.80L287.72,1791.80L287.72,1790.40L293.52,1790.40L293.52,1788.80L299.33,1788.80L299.33,1787.40L305.13,1787.40L305.13,1786.00L310.94,1786.00L310.94,1784.90L316.74,1784.90L316.74,1783.50L322.54,1783.50L322.54,1782.10L328.35,1782.10L328.35,1780.90L334.15,1780.90L334.15,1779.40L339.96,1779.40L339.96,1778.20L345.76,1778.20L345.76,1777.20L351.56,1777.20L351.56,1775.90L357.37,1775.90L357.37,1774.70L363.17,1774.70L363.17,1773.30L368.98,1773.30L368.98,1772.10L374.78,1772.10L374.78,1771.00L380.58,1771.00L380.58,1769.80L386.39,1769.80L386.39,1768.40L392.19,1768.40L392.19,1766.60L398.00,1766.60L398.00,1764.00L403.80,1764.00L403.80,1822.40Z" fill="#4878be"/>
<path d="M113.60,1822.40L113.60,1822.40L119.40,1822.40L119.40,1822.40L125.21,1822.40L125.21,1822.40L131.01,1822.40L131.01,1822.40L136.82,1822.40L136.82,1822.40L142.62,1822.40L142.62,1822.40L148.42,1822.40L148.42,1822.40L154.23,1822.40L154.23,1822.40L160.03,1822.40L160.03,1822.40L165.84,1822.40L165.84,1819.50L171.64,1819.50L171.64,1818.30L177.44,1818.30L177.44,1816.60L183.25,1816.60L183.25,1814.70L189.05,1814.70L189.05,1812.90L194.86,1812.90L194.86,1810.80L200.66,1810.80L200.66,1809.10L206.46,1809.10L206.46,1808.30L212.27,1808.30L212.27,1807.40L218.07,1807.40L218.07,1806.20L223.88,1806.20L223.88,1804.80L229.68,1804.80L229.68,1803.90L235.48,1803.90L235.48,1802.95L241.29,1802.95L241.29,1802.20L247.09,1802.20L247.09,1801.25L252.90,1801.25L252.90,1800.60L258.70,1800.60L258.70,1799.65L264.50,1799.65L264.50,1799.00L270.31,1799.00L270.31,1797.85L276.11,1797.85L276.11,1797.00L281.92,1797.00L281.92,1795.97L287.72,1795.97L287.72,1794.73L293.52,1794.73L293.52,1793.30L299.33,1793.30L299.33,1792.07L305.13,1792.07L305.13,1790.84L310.94,1790.84L310.94,1789.90L316.74,1789.90L316.74,1788.67L322.54,1788.67L322.54,1787.44L328.35,1787.44L328.35,1786.40L334.15,1786.40L334.15,1785.07L339.96,1785.07L339.96,1784.04L345.76,1784.04L345.76,1783.20L351.56,1783.20L351.56,1782.07L357.37,1782.07L357.37,1781.04L363.17,1781.04L363.17,1779.81L368.98,1779.81L368.98,1778.77L374.78,1778.77L374.78,1777.84L380.58,1777.84L380.58,1776.81L386.39,1776.81L386.39,1775.57L392.19,1775.57L392.19,1772.90L398.00,1772.90L398.00,1771.50L403.80,1771.50L403.80,1822.40Z" fill="#f58220"/>
<path d="M113.60,1822.40L113.60,1822.40L119.40,1822.40L119.40,1822.40L125.21,1822.40L125.21,1822.40L131.01,1822.40L131.01,1822.40L136.82,1822.40L136.82,1822.40L142.62,1822.40L142.62,1822.40L148.42,1822.40L148.42,1822.40L154.23,1822.40L154.23,1822.40L160.03,1822.40L160.03,1822.40L165.84,1822.40L165.84,1822.40L171.64,1822.40L171.64,1822.40L177.44,1822.40L177.44,1820.10L183.25,1820.10L183.25,1819.60L189.05,1819.60L189.05,1818.90L194.86,1818.90L194.86,1818.00L200.66,1818.00L200.66,1817.50L206.46,1817.50L206.46,1816.60L212.27,1816.60L212.27,1815.80L218.07,1815.80L218.07,1815.30L223.88,1815.30L223.88,1814.60L229.68,1814.60L229.68,1814.20L235.48,1814.20L235.48,1813.90L241.29,1813.90L241.29,1813.30L247.09,1813.30L247.09,1812.80L252.90,1812.80L252.90,1812.50L258.70,1812.50L258.70,1812.00L264.50,1812.00L264.50,1811.40L270.31,1811.40L270.31,1810.80L276.11,1810.80L276.11,1810.40L281.92,1810.40L281.92,1810.00L287.72,1810.00L287.72,1809.50L293.52,1809.50L293.52,1808.80L299.33,1808.80L299.33,1808.10L305.13,1808.10L305.13,1807.40L310.94,1807.40L310.94,1806.70L316.74,1806.70L316.74,1806.00L322.54,1806.00L322.54,1805.50L328.35,1805.50L328.35,1804.90L334.15,1804.90L334.15,1804.20L339.96,1804.20L339.96,1803.50L345.76,1803.50L345.76,1802.80L351.56,1802.80L351.56,1802.30L357.37,1802.30L357.37,1801.40L363.17,1801.40L363.17,1800.90L368.98,1800.90L368.98,1800.20L374.78,1800.20L374.78,1799.70L380.58,1799.70L380.58,1799.10L386.39,1799.10L386.39,1798.30L392.19,1798.30L392.19,1797.40L398.00,1797.40L398.00,1796.50L403.80,1796.50L403.80,1822.40Z" fill="#5bc4bf"/>
<path d="M113.60,1822.40L113.60,1822.40L119.40,1822.40L119.40,1822.40L125.21,1822.40L125.21,1822.40L131.01,1822.40L131.01,1822.40L136.82,1822.40L136.82,1822.40L142.62,1822.40L142.62,1822.40L148.42,1822.40L148.42,1822.40L154.23,1822.40L154.23,1822.40L160.03,1822.40L160.03,1822.40L165.84,1822.40L165.84,1822.40L171.64,1822.40L171.64,1822.40L177.44,1822.40L177.44,1822.40L183.25,1822.40L183.25,1822.40L189.05,1822.40L189.05,1822.40L194.86,1822.40L194.86,1822.40L200.66,1822.40L200.66,1822.40L206.46,1822.40L206.46,1822.40L212.27,1822.40L212.27,1822.40L218.07,1822.40L218.07,1822.40L223.88,1822.40L223.88,1822.40L229.68,1822.40L229.68,1822.40L235.48,1822.40L235.48,1822.40L241.29,1822.40L241.29,1822.40L247.09,1822.40L247.09,1822.40L252.90,1822.40L252.90,1822.40L258.70,1822.40L258.70,1822.40L264.50,1822.40L264.50,1822.40L270.31,1822.40L270.31,1822.40L276.11,1822.40L276.11,1822.40L281.92,1822.40L281.92,1822.40L287.72,1822.40L287.72,1822.40L293.52,1822.40L293.52,1818.60L299.33,1818.60L299.33,1818.60L305.13,1818.60L305.13,1818.30L310.94,1818.30L310.94,1818.30L316.74,1818.30L316.74,1817.00L322.54,1817.00L322.54,1817.00L328.35,1817.00L328.35,1817.00L334.15,1817.00L334.15,1816.00L339.96,1816.00L339.96,1816.00L345.76,1816.00L345.76,1816.00L351.56,1816.00L351.56,1814.40L357.37,1814.40L357.37,1814.40L363.17,1814.40L363.17,1813.90L368.98,1813.90L368.98,1813.90L374.78,1813.90L374.78,1813.90L380.58,1813.90L380.58,1812.90L386.39,1812.90L386.39,1812.90L392.19,1812.90L392.19,1810.10L398.00,1810.10L398.00,1810.10L403.80,1810.10L403.80,1822.40Z" fill="#b21c8c"/>
<path d="M113.60,1822.40L113.60,1822.40L119.40,1822.40L119.40,1822.40L125.21,1822.40L125.21,1822.40L131.01,1822.40L131.01,1822.40L136.82,1822.40L136.82,1822.40L142.62,1822.40L142.62,1822.40L148.42,1822.40L148.42,1822.40L154.23,1822.40L154.23,1822.40L160.03,1822.40L160.03,1822.40L165.84,1822.40L165.84,1822.40L171.64,1822.40L171.64,1822.40L177.44,1822.40L177.44,1822.40L183.25,1822.40L183.25,1822.40L189.05,1822.40L189.05,1822.40L194.86,1822.40L194.86,1822.40L200.66,1822.40L200.66,1822.40L206.46,1822.40L206.46,1822.40L212.27,1822.40L212.27,1822.40L218.07,1822.40L218.07,1822.40L223.88,1822.40L223.88,1822.40L229.68,1822.40L229.68,1822.40L235.48,1822.40L235.48,1822.40L241.29,1822.40L241.29,1822.40L247.09,1822.40L247.09,1822.40L252.90,1822.40L252.90,1822.40L258.70,1822.40L258.70,1822.40L264.50,1822.40L264.50,1822.40L270.31,1822.40L270.31,1822.40L276.11,1822.40L276.11,1822.40L281.92,1822.40L281.92,1822.40L287.72,1822.40L287.72,1822.40L293.52,1822.40L293.52,1822.40L299.33,1822.40L299.33,1822.40L305.13,1822.40L305.13,1819.60L310.94,1819.60L310.94,1819.60L316.74,1819.60L316.74,1818.70L322.54,1818.70L322.54,1818.70L328.35,1818.70L328.35,1818.70L334.15,1818.70L334.15,1817.90L339.96,1817.90L339.96,1817.90L345.76,1817.90L345.76,1817.90L351.56,1817.90L351.56,1816.40L357.37,1816.40L357.37,1816.40L363.17,1816.40L363.17,1815.20L368.98,1815.20L368.98,1815.20L374.78,1815.20L374.78,1815.20L380.58,1815.20L380.58,1814.30L386.39,1814.30L386.39,1814.30L392.19,1814.30L392.19,1812.90L398.00,1812.90L398.00,1812.90L403.80,1812.90L403.80,1822.40Z" fill="#9bca3c"/>
<path d="M113.60,1822.40L113.60,1822.40L119.40,1822.40L119.40,1822.40L125.21,1822.40L125.21,1822.40L131.01,1822.40L131.01,1822.40L136.82,1822.40L136.82,1822.40L142.62,1822.40L142.62,1822.40L148.42,1822.40L148.42,1822.40L154.23,1822.40L154.23,1822.40L160.03,1822.40L160.03,1822.40L165.84,1822.40L165.84,1822.40L171.64,1822.40L171.64,1822.40L177.44,1822.40L177.44,1822.40L183.25,1822.40L183.25,1822.40L189.05,1822.40L189.05,1822.40L194.86,1822.40L194.86,1822.40L200.66,1822.40L200.66,1822.40L206.46,1822.40L206.46,1822.40L212.27,1822.40L212.27,1822.40L218.07,1822.40L218.07,1822.40L223.88,1822.40L223.88,1822.40L229.68,1822.40L229.68,1822.40L235.48,1822.40L235.48,1822.40L241.29,1822.40L241.29,1822.40L247.09,1822.40L247.09,1822.40L252.90,1822.40L252.90,1822.40L258.70,1822.40L258.70,1822.40L264.50,1822.40L264.50,1822.40L270.31,1822.40L270.31,1822.40L276.11,1822.40L276.11,1822.40L281.92,1822.40L281.92,1822.40L287.72,1822.40L287.72,1822.40L293.52,1822.40L293.52,1822.40L299.33,1822.40L299.33,1822.40L305.13,1822.40L305.13,1822.40L310.94,1822.40L310.94,1822.40L316.74,1822.40L316.74,1822.40L322.54,1822.40L322.54,1822.40L328.35,1822.40L328.35,1822.40L334.15,1822.40L334.15,1822.40L339.96,1822.40L339.96,1822.40L345.76,1822.40L345.76,1822.40L351.56,1822.40L351.56,1822.40L357.37,1822.40L357.37,1822.40L363.17,1822.40L363.17,1818.10L368.98,1818.10L368.98,1818.10L374.78,1818.10L374.78,1818.10L380.58,1818.10L380.58,1818.10L386.39,1818.10L386.39,1818.10L392.19,1818.10L392.19,1817.80L398.00,1817.80L398.00,1817.80L403.80,1817.80L403.80,1822.40Z" fill="#7a3f98"/>
</g>
<rect x="114.85" y="1206.70" width="1.7" height="615.70" fill="#000"/>
<rect x="115.00" y="1822.40" width="1.4" height="11.2" fill="#4d4d4f"/>
<rect x="402.40" y="1822.40" width="1.3" height="11.2" fill="#3a3a3a"/>
<rect x="100.70" y="1263.00" width="15" height="1.2" fill="#000"/>
<text transform="translate(66.25,1274.20) scale(0.8488,1)" font-size="28">70</text>
<rect x="100.70" y="1344.10" width="15" height="1.2" fill="#000"/>
<text transform="translate(63.77,1355.30) scale(0.9299,1)" font-size="28">60</text>
<rect x="100.70" y="1420.30" width="15" height="1.2" fill="#000"/>
<text transform="translate(64.29,1431.50) scale(0.9130,1)" font-size="28">50</text>
<rect x="100.70" y="1501.80" width="15" height="1.2" fill="#000"/>
<text transform="translate(64.30,1513.00) scale(0.9126,1)" font-size="28">40</text>
<rect x="100.70" y="1581.90" width="15" height="1.2" fill="#000"/>
<text transform="translate(64.60,1593.10) scale(0.9029,1)" font-size="28">30</text>
<rect x="100.70" y="1661.90" width="15" height="1.2" fill="#000"/>
<text transform="translate(64.39,1673.10) scale(0.9096,1)" font-size="28">20</text>
<rect x="100.70" y="1742.00" width="15" height="1.2" fill="#000"/>
<text transform="translate(67.80,1753.20) scale(0.7980,1)" font-size="28">10</text>
<text transform="translate(78.70,1832.60) scale(0.9000,1)" font-size="28">0</text>
<rect x="100.40" y="1820.90" width="303.30" height="3.1" fill="#000"/>
<text transform="translate(109.43,1861.90) scale(0.7854,1)" font-size="28">1974</text>
<text transform="translate(352.00,1861.90) scale(0.8993,1)" font-size="28">2024</text>
<text transform="translate(131.91,1242.00) scale(0.8852,1)" font-size="28.6" stroke="#000" stroke-width="0.8"><tspan font-weight="bold" font-style="normal">Middle- to</tspan></text>
<text transform="translate(131.93,1272.40) scale(0.8732,1)" font-size="28.6" stroke="#000" stroke-width="0.8"><tspan font-weight="bold" font-style="normal">Upper-Income</tspan></text>
<text transform="translate(131.94,1302.80) scale(0.8583,1)" font-size="28.6" stroke="#000" stroke-width="0.8"><tspan font-weight="bold" font-style="normal">Countries</tspan></text>
</g>
<g id="panel-4">
<rect x="437.10" y="1206.80" width="291.00" height="614.60" fill="#fff"/>
<clipPath id="c4"><rect x="438.00" y="1204.80" width="290.00" height="618.60"/></clipPath>
<g clip-path="url(#c4)" shape-rendering="geometricPrecision">
<path d="M436.50,1821.40L436.50,1818.00L442.33,1818.00L442.33,1815.60L448.16,1815.60L448.16,1813.80L453.99,1813.80L453.99,1811.80L459.82,1811.80L459.82,1809.80L465.65,1809.80L465.65,1807.00L471.48,1807.00L471.48,1804.30L477.31,1804.30L477.31,1802.90L483.14,1802.90L483.14,1800.90L488.97,1800.90L488.97,1799.30L494.80,1799.30L494.80,1796.90L500.63,1796.90L500.63,1793.90L506.46,1793.90L506.46,1789.90L512.29,1789.90L512.29,1787.30L518.12,1787.30L518.12,1784.90L523.95,1784.90L523.95,1782.90L529.78,1782.90L529.78,1780.90L535.61,1780.90L535.61,1778.50L541.44,1778.50L541.44,1775.90L547.27,1775.90L547.27,1773.90L553.10,1773.90L553.10,1771.90L558.93,1771.90L558.93,1770.50L564.76,1770.50L564.76,1768.90L570.59,1768.90L570.59,1766.90L576.42,1766.90L576.42,1765.40L582.25,1765.40L582.25,1764.40L588.08,1764.40L588.08,1763.40L593.91,1763.40L593.91,1762.40L599.74,1762.40L599.74,1761.40L605.57,1761.40L605.57,1760.57L611.40,1760.57L611.40,1759.73L617.23,1759.73L617.23,1758.90L623.06,1758.90L623.06,1758.28L628.89,1758.28L628.89,1757.65L634.72,1757.65L634.72,1757.03L640.55,1757.03L640.55,1756.40L646.38,1756.40L646.38,1755.93L652.21,1755.93L652.21,1755.47L658.04,1755.47L658.04,1755.00L663.87,1755.00L663.87,1754.60L669.70,1754.60L669.70,1754.20L675.53,1754.20L675.53,1753.80L681.36,1753.80L681.36,1753.40L687.19,1753.40L687.19,1752.60L693.02,1752.60L693.02,1751.80L698.85,1751.80L698.85,1751.00L704.68,1751.00L704.68,1750.47L710.51,1750.47L710.51,1749.93L716.34,1749.93L716.34,1749.40L722.17,1749.40L722.17,1747.60L728.00,1747.60L728.00,1821.40Z" fill="#fdb515"/>
<path d="M436.50,1821.40L436.50,1821.40L442.33,1821.40L442.33,1821.40L448.16,1821.40L448.16,1821.40L453.99,1821.40L453.99,1821.40L459.82,1821.40L459.82,1821.40L465.65,1821.40L465.65,1821.40L471.48,1821.40L471.48,1821.40L477.31,1821.40L477.31,1821.40L483.14,1821.40L483.14,1821.40L488.97,1821.40L488.97,1821.40L494.80,1821.40L494.80,1821.40L500.63,1821.40L500.63,1821.40L506.46,1821.40L506.46,1821.40L512.29,1821.40L512.29,1821.40L518.12,1821.40L518.12,1821.40L523.95,1821.40L523.95,1821.40L529.78,1821.40L529.78,1821.40L535.61,1821.40L535.61,1821.40L541.44,1821.40L541.44,1821.40L547.27,1821.40L547.27,1821.40L553.10,1821.40L553.10,1821.40L558.93,1821.40L558.93,1821.40L564.76,1821.40L564.76,1821.40L570.59,1821.40L570.59,1821.40L576.42,1821.40L576.42,1821.40L582.25,1821.40L582.25,1821.40L588.08,1821.40L588.08,1821.40L593.91,1821.40L593.91,1821.40L599.74,1821.40L599.74,1821.40L605.57,1821.40L605.57,1821.40L611.40,1821.40L611.40,1821.40L617.23,1821.40L617.23,1821.40L623.06,1821.40L623.06,1821.40L628.89,1821.40L628.89,1821.40L634.72,1821.40L634.72,1821.40L640.55,1821.40L640.55,1821.40L646.38,1821.40L646.38,1820.40L652.21,1820.40L652.21,1819.40L658.04,1819.40L658.04,1819.40L663.87,1819.40L663.87,1819.40L669.70,1819.40L669.70,1819.40L675.53,1819.40L675.53,1819.40L681.36,1819.40L681.36,1817.30L687.19,1817.30L687.19,1817.30L693.02,1817.30L693.02,1817.30L698.85,1817.30L698.85,1817.30L704.68,1817.30L704.68,1817.30L710.51,1817.30L710.51,1817.30L716.34,1817.30L716.34,1817.30L722.17,1817.30L722.17,1817.30L728.00,1817.30L728.00,1821.40Z" fill="#9bca3c"/>
</g>
<rect x="436.25" y="1206.30" width="1.7" height="615.10" fill="#000"/>
<rect x="436.40" y="1821.40" width="1.4" height="11.2" fill="#4d4d4f"/>
<rect x="726.70" y="1821.40" width="1.3" height="11.2" fill="#3a3a3a"/>
<rect x="422.10" y="1262.20" width="15" height="1.2" fill="#000"/>
<rect x="422.10" y="1343.30" width="15" height="1.2" fill="#000"/>
<rect x="422.10" y="1419.50" width="15" height="1.2" fill="#000"/>
<rect x="422.10" y="1501.00" width="15" height="1.2" fill="#000"/>
<rect x="422.10" y="1581.10" width="15" height="1.2" fill="#000"/>
<rect x="422.10" y="1661.10" width="15" height="1.2" fill="#000"/>
<rect x="422.10" y="1741.20" width="15" height="1.2" fill="#000"/>
<rect x="421.80" y="1819.90" width="306.20" height="3.1" fill="#000"/>
<text transform="translate(430.83,1861.90) scale(0.7854,1)" font-size="28">1974</text>
<text transform="translate(676.30,1861.90) scale(0.8993,1)" font-size="28">2024</text>
<text transform="translate(451.74,1241.80) scale(0.8625,1)" font-size="28.6" stroke="#000" stroke-width="0.8"><tspan font-weight="bold" font-style="normal">High-Income</tspan></text>
<text transform="translate(451.74,1272.20) scale(0.8598,1)" font-size="28.6" stroke="#000" stroke-width="0.8"><tspan font-weight="bold" font-style="normal">Countries</tspan></text>
</g>
<g id="y-axis-labels">
<text transform="translate(46.30,1054.15) rotate(-90) scale(0.8264,1)" font-size="30" stroke="#000" stroke-width="0.5"><tspan font-weight="bold" font-style="normal">Deaths Averted</tspan></text>
<text transform="translate(46.20,864.34) rotate(-90) scale(0.8404,1)" font-size="28.5" stroke="#000" stroke-width="0.2">(cumulative</text>
<text transform="translate(46.20,737.09) rotate(-90) scale(0.8449,1)" font-size="28.5" stroke="#000" stroke-width="0.2">1974–2024,</text>
<text transform="translate(46.20,604.42) rotate(-90) scale(0.8225,1)" font-size="28.5" stroke="#000" stroke-width="0.2">in</text>
<text transform="translate(46.20,577.86) rotate(-90) scale(0.8587,1)" font-size="28.5" stroke="#000" stroke-width="0.2">millions)</text>
<text transform="translate(46.30,1770.35) rotate(-90) scale(0.8264,1)" font-size="30" stroke="#000" stroke-width="0.5"><tspan font-weight="bold" font-style="normal">Deaths Averted</tspan></text>
<text transform="translate(46.20,1580.54) rotate(-90) scale(0.8404,1)" font-size="28.5" stroke="#000" stroke-width="0.2">(cumulative</text>
<text transform="translate(46.20,1453.29) rotate(-90) scale(0.8449,1)" font-size="28.5" stroke="#000" stroke-width="0.2">1974–2024,</text>
<text transform="translate(46.20,1320.62) rotate(-90) scale(0.8225,1)" font-size="28.5" stroke="#000" stroke-width="0.2">in</text>
<text transform="translate(46.20,1294.06) rotate(-90) scale(0.8587,1)" font-size="28.5" stroke="#000" stroke-width="0.2">millions)</text>
</g>
</svg>
</body></html>
